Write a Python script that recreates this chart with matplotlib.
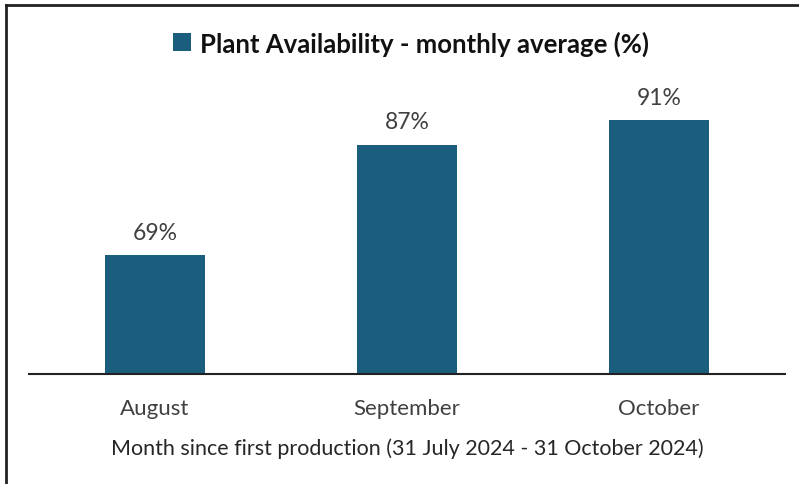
import matplotlib
matplotlib.use("Agg")
import matplotlib.pyplot as plt
from matplotlib.lines import Line2D
from matplotlib.patches import Patch

months = ["August", "September", "October"]
availability = [69, 87, 91]
value_labels = ["69%", "87%", "91%"]
legend_label = "Plant Availability - monthly average (%)"
x_label = "Month since first production (31 July 2024 - 31 October 2024)"

bar_color = "#1b5d7d"
text_color = "#404040"

plt.rcParams['font.family'] = ['Lato', 'DejaVu Sans']

fig = plt.figure(figsize=(7.99, 4.85), dpi=100)
ax = fig.add_axes([29/799, 1 - 375/485, (785 - 29)/799, (375 - 66)/485])

xs = list(range(len(months)))
ax.bar(xs, availability, width=0.4, color=bar_color, zorder=2)
ax.set_ylim(49.6, 100)
ax.set_xlim(-0.5, 2.5)

for x, v, lab in zip(xs, availability, value_labels):
    ax.annotate(lab, (x, v), xytext=(0, 9), textcoords="offset points",
                ha="center", va="bottom", fontsize=16.5, color=text_color)

for s in ["top", "right", "left"]:
    ax.spines[s].set_visible(False)
ax.spines["bottom"].set_color("#222222")
ax.spines["bottom"].set_linewidth(1.5)
ax.set_yticks([])
ax.set_xticks(xs)
ax.set_xticklabels(months, fontsize=16, color=text_color)
ax.tick_params(axis="x", length=0, pad=17)
ax.set_xlabel(x_label, fontsize=15.5, color="#262626", labelpad=14)

handle = Patch(facecolor=bar_color)
leg = fig.legend([handle], [legend_label], loc="center", bbox_to_anchor=(411/799, 1 - 44/485),
                 frameon=False, prop={'weight': 'bold', 'size': 18.5}, handlelength=0.7,
                 handleheight=0.7, handletextpad=0.35)
for t in leg.get_texts():
    t.set_color("#111111")

# figure border (top and left visible)
fig.add_artist(Line2D([6/799, 6/799], [0, 1 - 6/485], transform=fig.transFigure, color="#222222", lw=2))
fig.add_artist(Line2D([6/799, 1], [1 - 6/485, 1 - 6/485], transform=fig.transFigure, color="#222222", lw=2))

fig.savefig("out.png", dpi=100, facecolor="white")
